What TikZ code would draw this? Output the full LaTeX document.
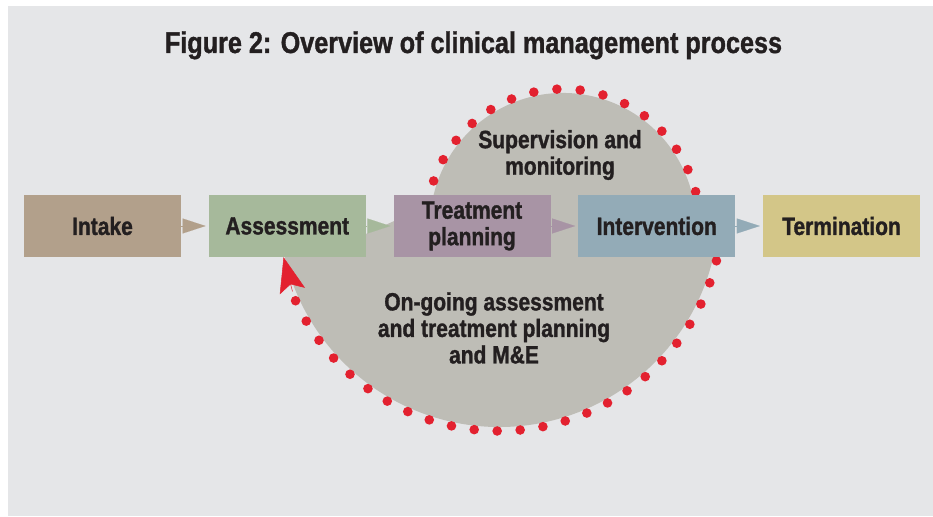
\documentclass[tikz,border=0pt]{standalone}
\usepackage{fontspec}
\setmainfont{Liberation Sans}[FakeStretch=0.84, FakeBold=1.2]
\usetikzlibrary{arrows.meta,calc}
\definecolor{panel}{HTML}{E5E6E8}
\definecolor{blob}{HTML}{BEBDB6}
\definecolor{intakec}{HTML}{B2A08B}
\definecolor{assessc}{HTML}{A6B99B}
\definecolor{treatc}{HTML}{A894A5}
\definecolor{interc}{HTML}{93ABB7}
\definecolor{termc}{HTML}{D3C688}
\definecolor{loopred}{HTML}{E3212F}
\definecolor{ink}{HTML}{231F20}
\begin{document}
\begin{tikzpicture}[x=1pt,y=1pt,
  box/.style={minimum width=157pt, minimum height=62pt, inner sep=0pt,
    font=\bfseries\fontsize{25}{26.5}\selectfont, text=ink, align=center},
  lbl/.style={font=\bfseries\fontsize{25}{26.5}\selectfont, text=ink, align=center, inner sep=0pt},
  tri/.style={-{Triangle[length=23pt,width=15pt]}, line width=0.1pt, shorten >=3pt},
  loopdot/.style={fill=loopred}]
\useasboundingbox (0,0) rectangle (933,516);
\fill[panel] (8,0) rectangle (933,510);
\node[lbl, font=\bfseries\fontsize{30}{32}\selectfont, anchor=base] (title) at (473.5,463)
  {Figure 2: Overview of clinical management process};
% grey background shape
\fill[blob] (282.3,270.8) -- (360,279.3) -- (400,297.7) -- (432.4,315.4)
  arc[start angle=169, end angle=-10, radius=133] -- (715.7,270.8)
  arc[start angle=-10, end angle=-170, radius=220] -- cycle;
% red dotted loop
\foreach \k in {0,...,15}
  \fill[loopdot] (563,290) ++({160.8-9.75*\k}:137) circle[radius=4.8pt];
\foreach \k in {0,...,24}
  \fill[loopdot] (499,309) ++({-13.9-5.89*\k}:224) circle[radius=4.8pt];
% boxes
\node[box, fill=intakec] (intake) at (102.5,290) {Intake};
\node[box, fill=assessc] (asmt) at (287.25,290) {Assessment};
\node[box, fill=treatc] (treat) at (472,290) {Treatment\\planning};
\node[box, fill=interc] (inter) at (656.75,290) {Intervention};
\node[box, fill=termc] (term) at (841.5,290) {Termination};
\coordinate (loopstart) at (292.5,224.5);
\draw[loopred, line width=0.5pt, -{Stealth[length=35pt,width=26pt,inset=7pt]}]
  (loopstart) -- ($(asmt.south west)+(75,0)$);
% arrows between boxes
\draw[tri, intakec] (intake.east) -- (asmt.west);
\draw[tri, assessc] (asmt.east) -- (treat.west);
\draw[tri, treatc] (treat.east) -- (inter.west);
\draw[tri, interc] (inter.east) -- (term.west);
% labels
\node[lbl] (sup) at (560,361) {Supervision and\\monitoring};
\node[lbl] (ongo) at (494,188) {On-going assessment\\and treatment planning\\and M\&E};
\end{tikzpicture}
\end{document}
